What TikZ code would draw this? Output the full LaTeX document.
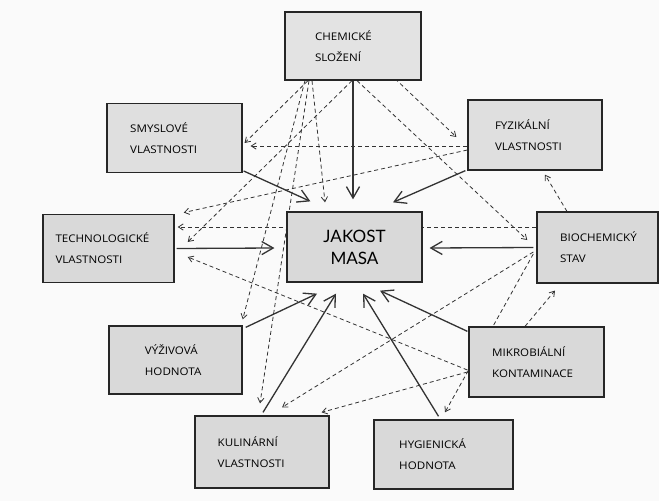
\documentclass[tikz,border=0pt]{standalone}
\usepackage{fontspec}
\setmainfont{Lato}
\newfontfamily\factorfont{Open Sans}[FakeStretch=1.1]
\usetikzlibrary{arrows.meta, calc}
\pgfdeclarelayer{paper}
\pgfdeclarelayer{links}
\pgfsetlayers{paper,links,main}
\tikzstyle{factor} = [rectangle, minimum width=4.72cm, minimum height=2.4cm, inner sep=0pt, text width=3.1cm, align=left, draw=black!85, line width=1.3pt, fill=gray!30, font=\factorfont\fontsize{10.5}{21}\selectfont]
\tikzstyle{quality} = [factor, text width=3cm, align=center, font=\fontsize{17}{22}\selectfont]
\tikzstyle{link} = [line width=1.3pt, black!80, -{Straight Barb[length=4mm,width=4.6mm]}]
\tikzstyle{dlink} = [line width=0.8pt, black!80, dash pattern=on 4pt off 3pt, -{Straight Barb[length=1.7mm,width=2.2mm]}]

\begin{document}
\begin{tikzpicture}[x=0.035cm, y=-0.035cm]
\begin{pgfonlayer}{paper}
\fill [gray!4] (0,0) rectangle (659,501);
\end{pgfonlayer}

\node (chem) [factor, fill=gray!22, text width=2.66cm, minimum width=4.76cm, minimum height=2.38cm] at (353,46) {CHEMICKÉ\\SLOŽENÍ};
\node (smys) [factor, fill=gray!25] at (174.5,138) {SMYSLOVÉ\\VLASTNOSTI};
\node (fyz) [factor, fill=gray!25, text width=2.8cm, minimum width=4.69cm, minimum height=2.45cm] at (535,135) {FYZIKÁLNÍ\\VLASTNOSTI};
\node (tech) [factor, text width=3.71cm, minimum width=4.59cm] at (108.5,248.5) {TECHNOLOGICKÉ\\VLASTNOSTI};
\node (jak) [quality, minimum width=4.72cm, minimum height=2.45cm] at (354.5,247) {JAKOST\\MASA};
\node (bio) [factor, text width=2.62cm, minimum width=4.24cm, minimum height=2.48cm] at (597.5,247.5) {BIOCHEMICKÝ\\STAV};
\node (vyz) [factor, text width=2.14cm, minimum width=4.66cm, minimum height=2.38cm] at (175.5,360) {VÝŽIVOVÁ\\HODNOTA};
\node (mikro) [factor, minimum width=4.72cm, minimum height=2.45cm] at (536.5,362) {MIKROBIÁLNÍ\\KONTAMINACE};
\node (kul) [factor, minimum width=4.69cm, minimum height=2.52cm] at (262,452) {KULINÁRNÍ\\VLASTNOSTI};
\node (hyg) [factor, minimum width=4.87cm, minimum height=2.42cm] at (443.5,454.5) {HYGIENICKÁ\\HODNOTA};

\begin{pgfonlayer}{links}
% dashed links
\draw [dlink] ($(chem.south)+(-45,0)$) -- ($(smys.east)+(2,5)$);
\draw [dlink] ($(chem.south)+(-1,0)$) -- ($(tech.east)+(13,-6.5)$);
\draw [dlink] ($(chem.south)+(-48,0)$) -- ($(vyz.north east)+(0,-6)$);
\draw [dlink] ($(chem.south)+(-44,0)$) -- ($(kul.north)+(-2,-12)$);
\draw [dlink] ($(chem.south)+(-41,0)$) -- ($(jak.north)+(-29.5,-9)$);
\draw [dlink] ($(chem.south)+(4,0)$) -- ($(bio.west)+(-9,-7.5)$);
\draw [dlink] ($(chem.south)+(42,-2)$) -- ($(fyz.west)+(-11,2)$);
\draw [dlink] ($(fyz.west)+(0,11)$) -- ($(smys.east)+(8,8)$);
\draw [dlink] ($(fyz.west)+(0,15)$) -- ($(tech.north east)+(9,-1)$);
\draw [dlink] ($(bio.north)+(-30.5,0)$) -- ($(fyz.south)+(10,4)$);
\draw [dlink] ($(bio.west)+(0,-20.5)$) -- ($(tech.east)+(3,-21.5)$);
\draw [dlink] ($(bio.west)+(-3,4.5)$) -- ($(kul.north)+(20,-8)$);
\draw [dlink] ($(bio.west)+(-3,6.5)$) -- ($(hyg.north)+(1.5,-7)$);
\draw [dlink] ($(mikro.north)+(-11.5,0)$) -- ($(bio.south)+(-42.5,7)$);
\draw [dlink] ($(mikro.west)+(-1,8)$) -- ($(tech.east)+(13,8.5)$);
\draw [dlink] ($(mikro.west)+(-1,10)$) -- ($(kul.north east)+(-8,-3)$);
% solid links
\draw [link] (chem.south) -- ($(jak.north)+(-1.5,-12)$);
\draw [link] ($(smys.south east)+(1,-2)$) -- ($(jak.north west)+(24,-10)$);
\draw [link] ($(fyz.south west)+(-2,0)$) -- ($(jak.north)+(38.5,-9)$);
\draw [link] ($(tech.east)+(2,0)$) -- ($(jak.west)+(-12,1)$);
\draw [link] ($(bio.west)+(-3,0)$) -- ($(jak.east)+(7,1)$);
\draw [link] ($(vyz.north east)+(3,2)$) -- ($(jak.south)+(-37.5,11)$);
\draw [link] ($(kul.north)+(1,-3)$) -- ($(jak.south)+(-18.5,11)$);
\draw [link] ($(hyg.north)+(-5,-3)$) -- ($(jak.south)+(8.5,11)$);
\draw [link] ($(mikro.north west)+(-1,5)$) -- ($(jak.south)+(25.5,8)$);
\end{pgfonlayer}
\end{tikzpicture}
\end{document}
